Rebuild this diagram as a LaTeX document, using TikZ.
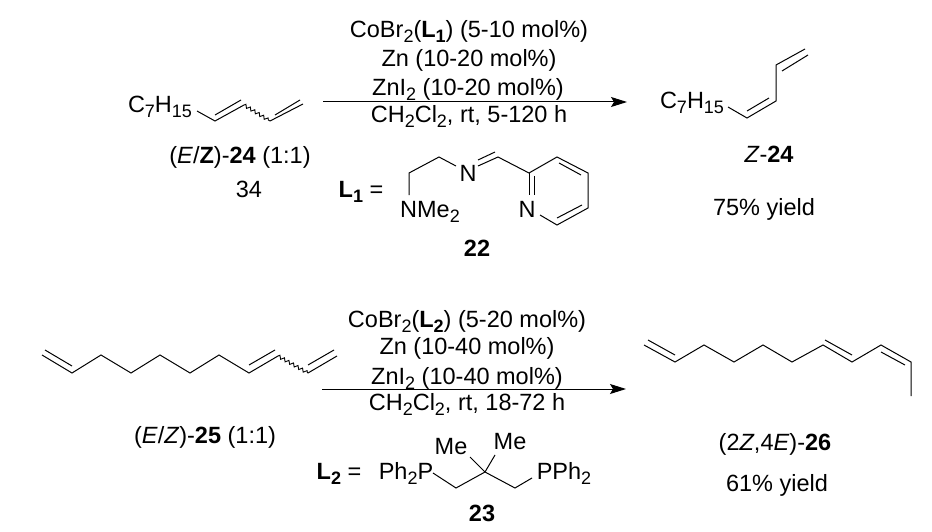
\documentclass[tikz,border=0pt]{standalone}
\usepackage{fontspec}
\setmainfont{Liberation Sans}
\usetikzlibrary{arrows.meta,decorations.pathmorphing}
\newcommand{\dn}[1]{\raisebox{-5pt}{\fontsize{18}{18}\selectfont #1}}
\begin{document}
\begin{tikzpicture}[x=1pt,y=-1pt,
    every node/.style = {inner sep=0pt,anchor=base,font=\fontsize{23.5}{25}\selectfont},
    bond/.style = {line width=1pt,line join=miter},
    wavy/.style = {line width=0.9pt,decorate,decoration={zigzag,segment length=5.2pt,amplitude=1.6pt}},
    arrow/.style = {line width=1pt,-{Stealth[length=16pt,width=10pt,inset=3pt]}}]
    \useasboundingbox (0,0) rectangle (932,532);

    % top reaction
    \node (cond1a) at (469,38) {CoBr\dn{2}(\textbf{L\dn{1}}) (5-10 mol\%)};
    \node (cond1b) at (469,67) {Zn (10-20 mol\%)};
    \node (cond1c) at (468,96) {ZnI\dn{2} (10-20 mol\%)};
    \node (cond1d) at (469,123) {CH\dn{2}Cl\dn{2}, rt, 5-120 h};
    \coordinate (a1s) at (323,102);
    \coordinate (a1e) at (627,102);
    \draw[arrow] (a1s) -- (a1e);

    \node (c7a) at (160,113) {C\dn{7}H\dn{15}};
    \coordinate (s1) at (197,111);
    \coordinate (s2) at (215,121);
    \coordinate (s3) at (244,105);
    \coordinate (s4) at (270,121);
    \coordinate (s5) at (303,104);
    \draw[bond] (s1) -- (s2) -- (s3);
    \draw[bond] (215,115) -- (241,100);
    \draw[wavy] (s3) -- (s4);
    \draw[bond] (s4) -- (s5);
    \draw[bond] (275,115) -- (300,100);
    \node (lab24) at (240,164) {(\textit{E}/\textbf{Z})-\textbf{24} (1:1)};
    \node (num34) at (249,197) {34};

    \node (c7b) at (692,109) {C\dn{7}H\dn{15}};
    \coordinate (p1) at (728,107);
    \coordinate (p2) at (747,118);
    \coordinate (p3) at (776,101);
    \coordinate (p4) at (776,65);
    \coordinate (p5) at (805,49);
    \draw[bond] (p1) -- (p2) -- (p3) -- (p4) -- (p5);
    \draw[bond] (747,111) -- (769,98);
    \draw[bond] (782,71) -- (808,55);
    \node (labz24) at (769,163) {\textit{Z}-\textbf{24}};
    \node (yield1) at (764,215) {75\% yield};

    % ligand L1
    \node (l1) at (361,197) {\textbf{L\dn{1}} =};
    \node (nme) at (430,218) {NMe\dn{2}};
    \node (n1) at (468,182) {N};
    \node (n2) at (527,218) {N};
    \coordinate (b1) at (409,195);
    \coordinate (b2) at (409,173);
    \coordinate (b3) at (439,157);
    \coordinate (b4) at (456,166);
    \coordinate (b5) at (478,166);
    \coordinate (b6) at (498,157);
    \coordinate (r1) at (529,173);
    \coordinate (r2) at (557,157);
    \coordinate (r3) at (588,173);
    \coordinate (r4) at (588,208);
    \coordinate (r5) at (557,225);
    \coordinate (r6) at (540,215);
    \draw[bond] (b1) -- (b2) -- (b3) -- (b4);
    \draw[bond] (b5) -- (b6) -- (r1) -- (r2) -- (r3) -- (r4) -- (r5) -- (r6);
    \draw[bond] (478,160) -- (495,152);
    \draw[bond] (r1) -- (529,195);
    \draw[bond] (534,176) -- (534,195);
    \draw[bond] (559,163) -- (581,175);
    \draw[bond] (557,218) -- (582,205);
    \node (num22) at (477,256) {\textbf{22}};

    % bottom reaction
    \node (cond2a) at (467,327) {CoBr\dn{2}(\textbf{L\dn{2}}) (5-20 mol\%)};
    \node (cond2b) at (467,354) {Zn (10-40 mol\%)};
    \node (cond2c) at (467,384) {ZnI\dn{2} (10-40 mol\%)};
    \node (cond2d) at (467,410) {CH\dn{2}Cl\dn{2}, rt, 18-72 h};
    \coordinate (a2s) at (322,389);
    \coordinate (a2e) at (626,389);
    \draw[arrow] (a2s) -- (a2e);

    \coordinate (d1) at (42,355);
    \coordinate (d2) at (72,373);
    \coordinate (d3) at (101,355);
    \coordinate (d4) at (131,373);
    \coordinate (d5) at (160,355);
    \coordinate (d6) at (190,373);
    \coordinate (d7) at (219,355);
    \coordinate (d8) at (249,373);
    \coordinate (d9) at (278,356);
    \coordinate (d10) at (308,373);
    \coordinate (d11) at (337,356);
    \draw[bond] (d1) -- (d2) -- (d3) -- (d4) -- (d5) -- (d6) -- (d7) -- (d8) -- (d9);
    \draw[bond] (45,350) -- (72,366);
    \draw[bond] (249,365) -- (275,350);
    \draw[wavy] (d9) -- (d10);
    \draw[bond] (d10) -- (d11);
    \draw[bond] (308,365) -- (334,350);
    \node (lab25) at (205,443) {(\textit{E}/\textit{Z})-\textbf{25} (1:1)};

    \coordinate (e1) at (644,345);
    \coordinate (e2) at (675,362);
    \coordinate (e3) at (704,345);
    \coordinate (e4) at (734,362);
    \coordinate (e5) at (763,345);
    \coordinate (e6) at (792,362);
    \coordinate (e7) at (823,345);
    \coordinate (e8) at (852,362);
    \coordinate (e9) at (881,345);
    \coordinate (e10) at (911,362);
    \coordinate (e11) at (911,396);
    \draw[bond] (e1) -- (e2) -- (e3) -- (e4) -- (e5) -- (e6) -- (e7) -- (e8) -- (e9) -- (e10) -- (e11);
    \draw[bond] (648,340) -- (675,355);
    \draw[bond] (825,340) -- (852,355);
    \draw[bond] (881,352) -- (905,365);
    \node (lab26) at (775,450) {(2\textit{Z},4\textit{E})-\textbf{26}};
    \node (yield2) at (777,491) {61\% yield};

    % ligand L2
    \node (l2) at (339,479) {\textbf{L\dn{2}} =};
    \node (pl) at (406,479) {Ph\dn{2}P};
    \node (pr) at (564,479) {PPh\dn{2}};
    \node (mel) at (451,454) {Me};
    \node (mer) at (510,449) {Me};
    \coordinate (c1) at (433,473);
    \coordinate (c2) at (456,488);
    \coordinate (c3) at (485,472);
    \coordinate (c4) at (515,488);
    \coordinate (c5) at (532,478);
    \draw[bond] (c1) -- (c2) -- (c3) -- (c4) -- (c5);
    \draw[bond] (470,457) -- (c3);
    \draw[bond] (495,455) -- (c3);
    \node (num23) at (482,521) {\textbf{23}};
\end{tikzpicture}
\end{document}
